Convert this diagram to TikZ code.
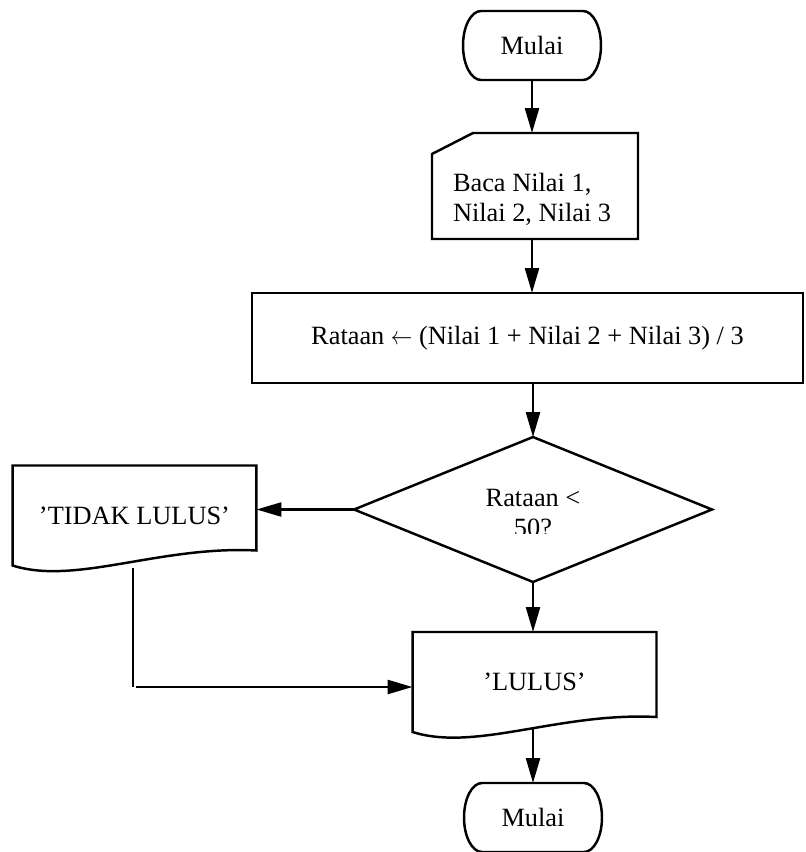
\documentclass[tikz,border=0pt]{standalone}
\usepackage{fontspec}
\setmainfont{Liberation Serif}
\usetikzlibrary{arrows.meta}

% Outline of a terminal (Mulai) round the node #1
\newcommand{\terminalbox}[1]{%
  \draw [garis] ([xshift=0.36cm]#1.north west) -- ([xshift=-0.36cm]#1.north east)
    arc [start angle=90, end angle=-90, x radius=0.36cm, y radius=0.69cm]
    -- ([xshift=0.36cm]#1.south west)
    arc [start angle=270, end angle=90, x radius=0.36cm, y radius=0.69cm] -- cycle;%
}
% Outline of a document (output) round the node #1
\newcommand{\dokumenbox}[1]{%
  \draw [garis] (#1.north west) -- (#1.north east) -- ([yshift=0.3cm]#1.south east)
    .. controls ([xshift=-1.94cm,yshift=0.4cm]#1.south east) and ([xshift=1.26cm,yshift=-0.4cm]#1.south west) .. (#1.south west)
    -- cycle;%
}

\begin{document}
\begin{tikzpicture}[x=0.02cm, y=0.02cm,
    every node/.style={font=\fontsize{15pt}{17pt}\selectfont, outer sep=0pt},
    garis/.style={line width=1.4pt, line join=miter},
    garistipis/.style={line width=0.8pt},
    panah/.style={line width=1.4pt, -{Triangle[length=0.5cm, width=0.28cm]}},
    terminal/.style={minimum width=2.76cm, minimum height=1.38cm},
    dokumen/.style={minimum width=4.88cm, minimum height=2cm},
  ]
  \useasboundingbox (0,0) rectangle (805,-852);

  % Terminal Mulai (top)
  \node [terminal] (mulai) at (532,-45.5) {Mulai};%
  \terminalbox{mulai}

  % Input Baca Nilai
  \node [minimum width=4.12cm, minimum height=2.12cm] (baca) at (535,-186) {};%
  \draw [garis] (432,-154) -- (473,-133) -- (638,-133) -- (638,-239) -- (432,-239) -- cycle;%
  \node [anchor=west, align=left, inner sep=0pt] (bacateks) at (453,-199.5) {Baca Nilai 1,\\Nilai 2, Nilai 3};%

  % Process Rataan
  \node [garis, draw, minimum width=11.02cm, minimum height=1.8cm] (proses) at (527.5,-338)
    {Rataan \scalebox{0.85}[1]{$\leftarrow$} (Nilai 1 + Nilai 2 + Nilai 3) / 3};%

  % Decision Rataan < 50?
  \node [minimum width=7.16cm, minimum height=2.9cm] (keputusan) at (533,-509.5) {};%
  \draw [garis] (keputusan.north) -- (keputusan.east) -- (keputusan.south) -- (keputusan.west) -- cycle;%
  \begin{scope}
    \clip (355,-470) rectangle (713,-533);
    \node [align=center] (syarat) at (533,-513) {Rataan <\\50?};%
  \end{scope}

  % Output 'TIDAK LULUS'
  \node [dokumen] (tidak) at (134.5,-515.5) {'TIDAK LULUS'};%
  \dokumenbox{tidak}

  % Output 'LULUS'
  \node [dokumen] (lulus) at (534.5,-682) {'LULUS'};%
  \dokumenbox{lulus}

  % Terminal Mulai (bottom)
  \node [terminal] (selesai) at (533,-817.5) {Mulai};%
  \terminalbox{selesai}

  % Connectors
  \draw [panah] (mulai.south) -- (mulai.south |- baca.north);%
  \draw [panah] (mulai.south |- baca.south) -- (mulai.south |- proses.north);%
  \draw [panah] (proses.south -| keputusan.north) -- (keputusan.north);%
  \draw [panah] (keputusan.west) -- (keputusan.west -| tidak.east);%
  \draw [panah] (keputusan.south) -- (keputusan.south |- lulus.north);%
  \coordinate (belok) at (133,-687);
  \draw [garistipis] ([yshift=-0.05cm]tidak.south -| belok) -- (belok);%
  \draw [panah] ([xshift=0.05cm]belok) -- (belok -| lulus.west);%
  \draw [panah] ([yshift=0.06cm]keputusan.south |- lulus.south) -- (selesai.north);%
\end{tikzpicture}
\end{document}
